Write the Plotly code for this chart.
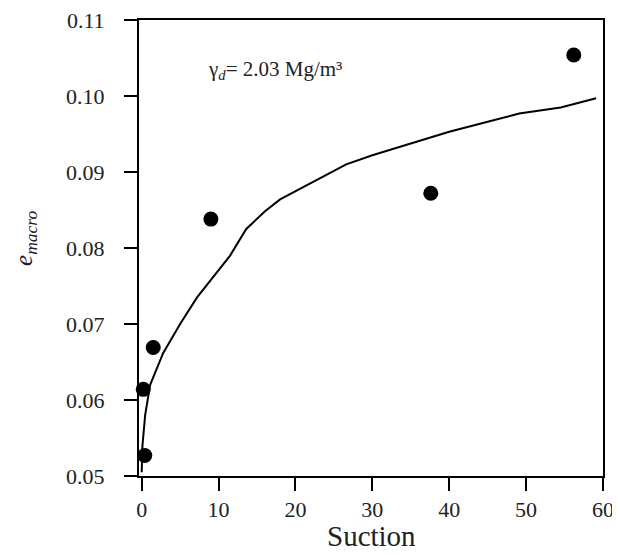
import plotly.graph_objects as go

# measured points
suction_pts = [0.2, 0.4, 1.5, 9.0, 37.6, 56.2]
emacro_pts = [0.0614, 0.0527, 0.0669, 0.0838, 0.0872, 0.1054]

# fitted curve
suction_fit = [0.0, 0.1, 0.45, 1.1, 2.8, 5.0, 7.2, 9.5, 11.5, 13.6, 16.0, 18.0,
               22.2, 26.6, 30.0, 35.0, 40.0, 45.0, 49.1, 54.5, 59.1]
emacro_fit = [0.0505, 0.0540, 0.0580, 0.0620, 0.0662, 0.0700, 0.0735, 0.0765,
              0.0790, 0.0825, 0.0848, 0.0864, 0.0887, 0.0910, 0.0922, 0.0938,
              0.0953, 0.0966, 0.0977, 0.0985, 0.0997]

x_ticks = [0, 10, 20, 30, 40, 50, 60]
y_ticks = [0.05, 0.06, 0.07, 0.08, 0.09, 0.10, 0.11]
y_tick_text = ["0.05", "0.06", "0.07", "0.08", "0.09", "0.10", "0.11"]

FONT = "Liberation Serif"
TXT = "#222222"

fig = go.Figure()
fig.add_trace(go.Scatter(x=suction_fit, y=emacro_fit, mode="lines",
                         line=dict(color="black", width=2), showlegend=False))
fig.add_trace(go.Scatter(x=suction_pts, y=emacro_pts, mode="markers",
                         marker=dict(color="black", size=15), showlegend=False,
                         cliponaxis=False))

fig.update_layout(
    width=612, height=547,
    margin=dict(l=131, r=17, t=12, b=79),
    plot_bgcolor="white", paper_bgcolor="white",
    font=dict(family=FONT, color=TXT, size=22),
    xaxis=dict(range=[-0.35, 60], tickvals=x_ticks, ticks="outside", ticklen=13,
               tickwidth=2, tickcolor="black", showline=True, linecolor="black",
               linewidth=2, mirror=True, showgrid=False, zeroline=False,
               automargin=False, ticklabeloverflow="allow",
               tickfont=dict(family=FONT, size=22, color=TXT)),
    yaxis=dict(range=[0.05, 0.11], tickvals=y_ticks, ticktext=y_tick_text,
               ticks="outside", ticklen=13, tickwidth=2, tickcolor="black",
               showline=True, linecolor="black", linewidth=2, mirror=True,
               showgrid=False, zeroline=False, ticklabelstandoff=15,
               automargin=False, ticklabeloverflow="allow",
               tickfont=dict(family=FONT, size=22, color=TXT)),
    annotations=[
        dict(text="γ<sub><i>d</i></sub>= 2.03 Mg/m³", x=8.4, y=0.1034,
             xref="x", yref="y", xanchor="left", yanchor="middle",
             showarrow=False, font=dict(family=FONT, size=21, color=TXT)),
        dict(text="Suction", x=0.5, y=-0.1717, xref="paper", yref="paper",
             xanchor="center", yanchor="bottom", showarrow=False,
             font=dict(family=FONT, size=29, color=TXT)),
        dict(text="<i>e</i><sub><i>macro</i></sub>", x=-0.2435, y=0.52,
             xref="paper", yref="paper", xanchor="center", yanchor="middle",
             textangle=-90, showarrow=False,
             font=dict(family=FONT, size=25, color=TXT)),
    ],
)

fig.write_html("out.html")
